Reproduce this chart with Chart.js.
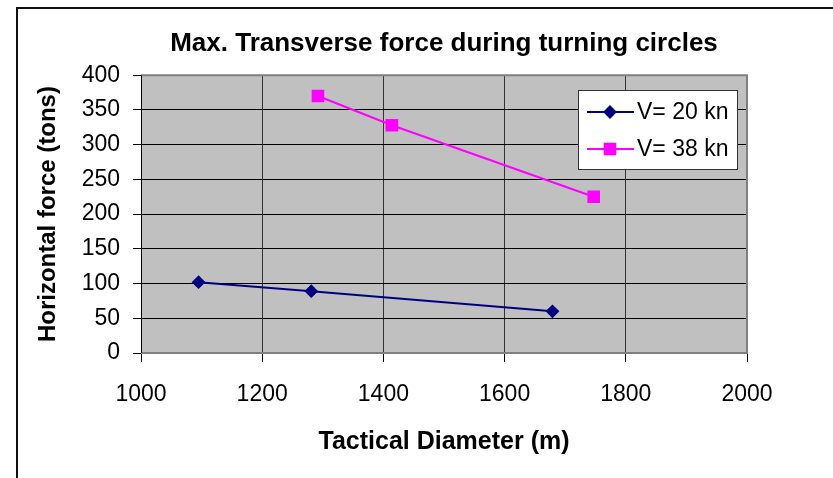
<!DOCTYPE html>
<html>
<head>
<meta charset="utf-8">
<script src="https://cdn.jsdelivr.net/npm/chart.js@4.4.1/dist/chart.umd.min.js"></script>
<style>
  html, body { margin: 0; padding: 0; background: #fff; }
  #wrap { width: 833px; height: 478px; position: relative; }
</style>
</head>
<body>
<div id="wrap"><canvas id="turningChart" width="833" height="478"></canvas></div>
<script>
// Max. transverse force during turning circles
const diameter20 = [1095, 1281, 1679];
const force20 = [102, 89, 60];
const diameter38 = [1292, 1414, 1747];
const force38 = [370, 328, 225];
const seriesNames = ['V= 20 kn', 'V= 38 kn'];
const xTicks = [1000, 1200, 1400, 1600, 1800, 2000];
const yTicks = [0, 50, 100, 150, 200, 250, 300, 350, 400];

const FONT = "'Liberation Sans', Arial, sans-serif";

// gray plot area + outer frame
const plotBg = {
    id: 'plotBg',
    beforeDraw(chart) {
        const { ctx, chartArea: a } = chart;
        ctx.save();
        ctx.fillStyle = '#c0c0c0';
        ctx.fillRect(a.left, a.top, a.right - a.left, a.bottom - a.top);
        // frame of the chart object (only top and left visible)
        ctx.strokeStyle = '#111';
        ctx.lineWidth = 2;
        ctx.beginPath();
        ctx.moveTo(17, 478);
        ctx.lineTo(17, 8);
        ctx.lineTo(833, 8);
        ctx.stroke();
        ctx.restore();
    },
    afterDatasetsDraw(chart) {
        const { ctx, chartArea: a } = chart;
        ctx.save();
        ctx.strokeStyle = '#808080';
        ctx.lineWidth = 2;
        ctx.beginPath();
        ctx.moveTo(a.left, a.top);
        ctx.lineTo(a.right, a.top);
        ctx.lineTo(a.right, a.bottom);
        ctx.lineTo(a.left, a.bottom);
        ctx.stroke();
        ctx.strokeStyle = '#000';
        ctx.lineWidth = 1;
        ctx.beginPath();
        ctx.moveTo(a.left + 0.5, a.top);
        ctx.lineTo(a.left + 0.5, a.bottom);
        ctx.stroke();
        ctx.restore();
    }
};

// boxed legend inside the plot, like Excel
const boxLegend = {
    id: 'boxLegend',
    afterDraw(chart) {
        const { ctx } = chart;
        const x0 = 578, y0 = 90, w = 159, h = 79;
        ctx.save();
        ctx.fillStyle = '#fff';
        ctx.fillRect(x0, y0, w, h);
        ctx.strokeStyle = '#333';
        ctx.lineWidth = 1;
        ctx.strokeRect(x0 + 0.5, y0 + 0.5, w, h);
        chart.data.datasets.forEach((ds, i) => {
            const cy = y0 + 22 + i * 37;
            ctx.strokeStyle = ds.borderColor;
            ctx.lineWidth = 2;
            ctx.beginPath();
            ctx.moveTo(587, cy);
            ctx.lineTo(634, cy);
            ctx.stroke();
            Chart.helpers.drawPoint(ctx, {
                pointStyle: ds.pointStyle,
                radius: ds.pointRadius,
                borderWidth: 1
            }, 610, cy);
            ctx.fillStyle = ds.pointBackgroundColor;
            ctx.strokeStyle = ds.borderColor;
            ctx.fill();
            ctx.fillStyle = '#000';
            ctx.font = '23px ' + FONT;
            ctx.textAlign = 'left';
            ctx.textBaseline = 'middle';
            ctx.fillText(ds.label, 637, cy + 1);
        });
        ctx.restore();
    }
};

new Chart(document.getElementById('turningChart'), {
    type: 'line',
    data: {
        datasets: [
            {
                label: seriesNames[0],
                data: diameter20.map((d, i) => ({ x: d, y: force20[i] })),
                borderColor: '#000080',
                backgroundColor: '#000080',
                pointBackgroundColor: '#000080',
                pointBorderColor: '#000080',
                pointStyle: 'rectRot',
                pointRadius: 5.5,
                borderWidth: 2,
                tension: 0
            },
            {
                label: seriesNames[1],
                data: diameter38.map((d, i) => ({ x: d, y: force38[i] })),
                borderColor: '#ff00ff',
                backgroundColor: '#ff00ff',
                pointBackgroundColor: '#ff00ff',
                pointBorderColor: '#ff00ff',
                pointStyle: 'rect',
                pointRadius: 7.5,
                borderWidth: 2,
                tension: 0
            }
        ]
    },
    options: {
        responsive: false,
        animation: false,
        layout: { padding: { left: 0, right: 86, top: 0, bottom: 0 } },
        plugins: {
            legend: { display: false },
            tooltip: { enabled: false },
            title: {
                display: true,
                fullSize: false,
                text: 'Max. Transverse force during turning circles',
                color: '#000',
                font: { family: FONT, size: 26, weight: 'bold' },
                padding: { top: 28, bottom: 16 }
            }
        },
        scales: {
            x: {
                type: 'linear',
                min: 1000,
                max: 2000,
                afterBuildTicks: s => { s.ticks = xTicks.map(v => ({ value: v })); },
                afterFit: s => { s.height = 125; },
                grid: { color: '#333', tickColor: '#000', tickLength: 9, drawOnChartArea: true },
                border: { display: false },
                ticks: { color: '#000', font: { family: FONT, size: 23 }, padding: 19, maxRotation: 0,
                         callback: v => String(v) },
                title: {
                    display: true,
                    text: 'Tactical Diameter (m)',
                    color: '#000',
                    font: { family: FONT, size: 25, weight: 'bold' },
                    padding: { top: 0, bottom: 21 }
                }
            },
            y: {
                type: 'linear',
                min: 0,
                max: 400,
                afterBuildTicks: s => { s.ticks = yTicks.map(v => ({ value: v })); },
                afterFit: s => { s.width = 141; },
                grid: { color: '#000', tickColor: '#000', tickLength: 8 },
                border: { display: false },
                ticks: { color: '#000', font: { family: FONT, size: 23 }, padding: 13,
                         callback: v => String(v) },
                title: {
                    display: true,
                    text: 'Horizontal force (tons)',
                    color: '#000',
                    font: { family: FONT, size: 24, weight: 'bold' },
                    padding: { top: 34, bottom: 0 }
                }
            }
        }
    },
    plugins: [plotBg, boxLegend]
});
</script>
</body>
</html>
